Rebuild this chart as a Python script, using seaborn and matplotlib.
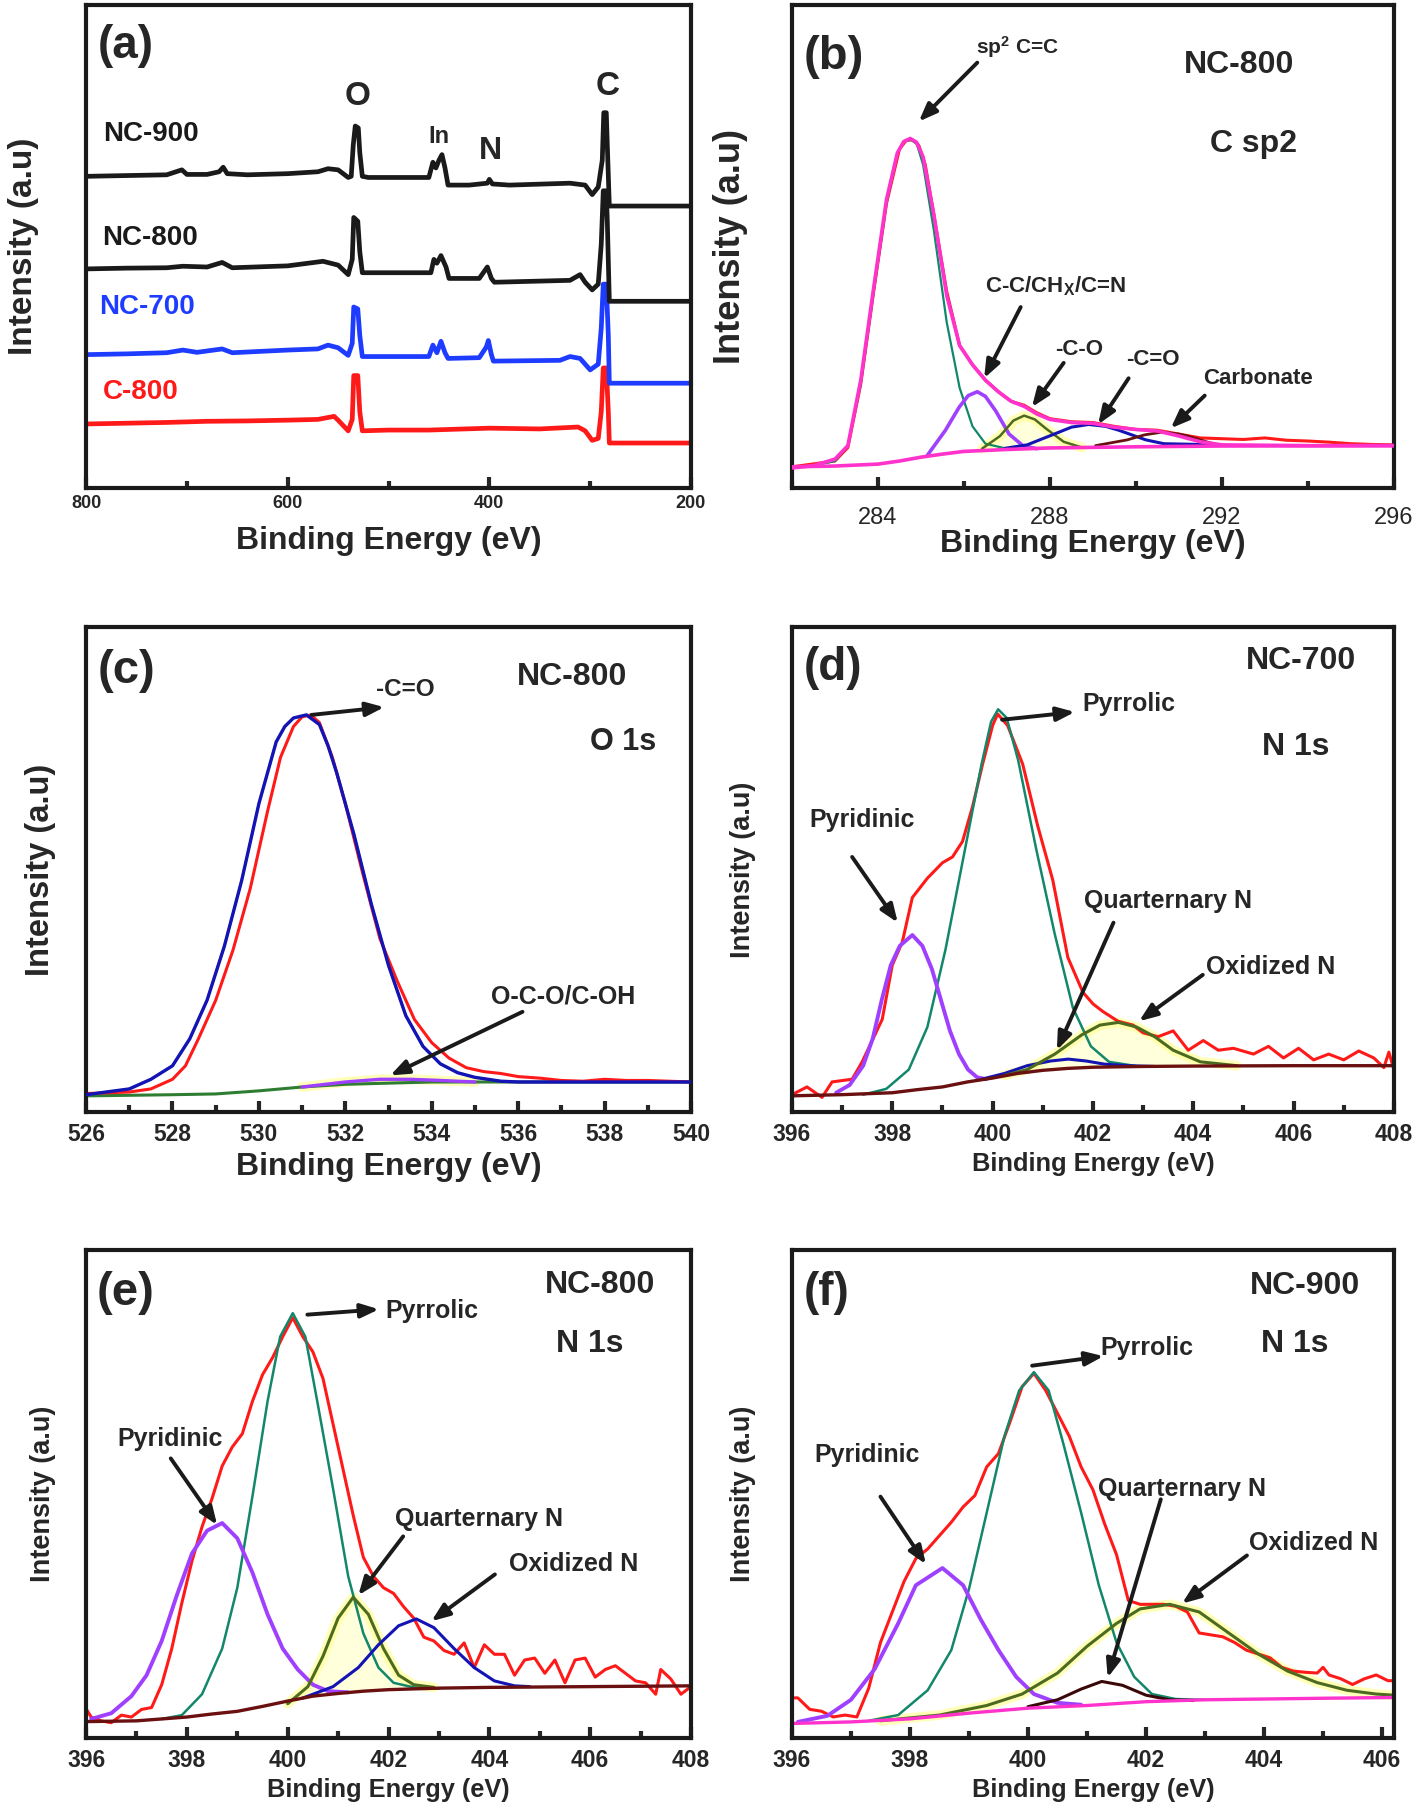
"""
XPS spectra of NC / C samples - survey, C 1s, O 1s and N 1s fits
"""

import numpy as np
import matplotlib
matplotlib.use("Agg")
import matplotlib.pyplot as plt
import seaborn as sns

# ---------------- (a) survey spectra ----------------
A_X_NC900 = [800, 760, 720, 705, 700, 680, 668, 664, 660, 640, 600, 570, 560, 550, 540, 537, 535, 533,
             530, 528.5, 526, 520, 480, 460, 456, 453, 450, 447, 444, 441, 420, 402, 400, 397, 380, 320,
             305, 298, 292, 288, 286.5, 284, 283, 281, 200]
A_Y_NC900 = [818, 820, 822, 835, 823, 823, 830, 842, 825, 822, 825, 830, 838, 835, 815, 818, 900, 950,
             945, 880, 818, 815, 815, 815, 855, 840, 860, 875, 840, 795, 795, 800, 810, 798, 795, 800,
             795, 770, 790, 860, 985, 985, 900, 740, 740]
A_X_NC800 = [800, 760, 720, 704, 680, 665, 655, 600, 565, 550, 540, 536, 534.5, 530.5, 528.5, 526, 480,
             458, 455, 452, 448, 443, 440, 410, 402, 398, 395, 320, 310, 305, 298, 292, 289, 287, 284,
             283, 281, 200]
A_Y_NC800 = [575, 577, 578, 582, 580, 592, 578, 583, 595, 585, 560, 600, 710, 700, 620, 565, 565, 565,
             600, 590, 610, 580, 550, 550, 580, 550, 540, 545, 560, 540, 520, 535, 640, 780, 780, 700,
             490, 490]
A_X_NC700 = [800, 760, 720, 704, 690, 665, 655, 600, 570, 560, 550, 540, 536, 534.5, 530.5, 528.5, 526,
             460, 456, 452, 448, 444, 441, 410, 403, 401, 398, 396, 330, 320, 310, 300, 292, 289, 287,
             284, 282, 281, 200]
A_Y_NC700 = [350, 352, 355, 362, 356, 365, 355, 362, 365, 375, 368, 348, 380, 475, 470, 400, 345, 345,
             375, 355, 385, 355, 340, 342, 370, 387, 350, 333, 335, 345, 340, 310, 325, 420, 535, 535,
             400, 275, 275]
A_X_C800 = [800, 760, 720, 680, 640, 600, 570, 554, 550, 540, 536, 534.5, 530.5, 528.5, 526, 500, 460,
            400, 350, 312, 305, 298, 292, 289, 287, 284, 282, 281, 200]
A_Y_C800 = [168, 170, 172, 175, 176, 178, 180, 188, 178, 150, 180, 295, 295, 200, 150, 152, 152, 157,
            155, 160, 150, 125, 130, 200, 315, 315, 200, 118, 118]

# ---------------- (b) C 1s, NC-800 ----------------
B_X_RAW = [282, 283, 283.3, 283.6, 283.9, 284.2, 284.5, 284.65, 284.8, 284.95, 285.1, 285.3, 285.6,
           285.9, 286.2, 286.5, 286.8, 287.1, 287.4, 287.7, 288, 288.5, 289, 289.5, 290, 290.5, 291,
           291.5, 292, 292.5, 293, 293.5, 294, 294.5, 295, 295.5, 296]
B_Y_RAW = [55, 70, 105, 270, 510, 740, 880, 902, 905, 890, 840, 710, 510, 370, 320, 280, 250, 225, 215,
           195, 180, 172, 170, 160, 152, 150, 140, 130, 128, 126, 130, 124, 122, 119, 115, 113, 112]
B_X_ENV = [282, 282.5, 283, 283.3, 283.6, 283.9, 284.2, 284.45, 284.6, 284.75, 284.9, 285.05, 285.3,
           285.6, 285.9, 286.2, 286.5, 286.8, 287.1, 287.4, 287.7, 288, 288.5, 289, 289.5, 290, 290.5,
           291, 291.5, 292, 294, 296]
B_Y_ENV = [52, 58, 75, 110, 280, 520, 750, 870, 900, 908, 898, 860, 710, 500, 370, 320, 280, 250, 225,
           212, 192, 178, 170, 168, 158, 152, 148, 135, 120, 112, 110, 110]
B_X_BG = [282, 283, 284, 284.5, 285, 285.5, 286, 287, 288, 290, 292, 296]
B_Y_BG = [55, 57, 62, 70, 80, 88, 95, 100, 104, 107, 109, 110]
B_X_SP2 = [282.5, 283, 283.3, 283.6, 283.9, 284.2, 284.45, 284.6, 284.75, 284.9, 285.05, 285.3, 285.6,
           285.9, 286.2, 286.5, 287]
B_Y_SP2 = [58, 70, 110, 270, 510, 740, 870, 900, 905, 895, 840, 670, 430, 260, 160, 115, 102]
B_X_CC = [285.15, 285.57, 285.89, 286.1, 286.31, 286.5, 286.74, 287.05, 287.37, 287.69]
B_Y_CC = [85, 150, 210, 240, 250, 238, 200, 140, 110, 102]
B_X_CO = [286.42, 286.84, 287.15, 287.4, 287.65, 287.9, 288.32, 288.75]
B_Y_CO = [102, 135, 175, 188, 178, 155, 120, 105]
B_X_CDO = [286.95, 287.47, 288.1, 288.5, 288.9, 289.3, 289.6, 290.23, 290.65, 291.92]
B_Y_CDO = [103, 112, 140, 158, 165, 160, 150, 125, 115, 112]
B_X_CARB = [289.06, 289.8, 290.2, 290.6, 291.0, 291.2, 291.7, 292.03]
B_Y_CARB = [110, 125, 138, 145, 140, 135, 118, 110]

# ---------------- (c) O 1s, NC-800 ----------------
C_X_RAW = [526, 526.5, 527, 527.5, 528, 528.3, 528.6, 529, 529.4, 529.8, 530.2, 530.5, 530.8, 531.0,
           531.2, 531.4, 531.7, 532, 532.4, 532.8, 533.2, 533.6, 534.0, 534.4, 534.8, 535.2, 535.6, 536,
           536.5, 537, 537.5, 538, 538.5, 539, 539.5, 540]
C_Y_RAW = [48, 50, 52, 60, 85, 120, 190, 290, 420, 580, 780, 920, 1000, 1025, 1030, 1010, 920, 800, 620,
           450, 340, 240, 180, 140, 115, 105, 100, 92, 88, 82, 80, 85, 82, 82, 80, 78]
C_X_FIT = [526, 527, 527.5, 528, 528.4, 528.8, 529.2, 529.6, 530, 530.4, 530.6, 530.8, 531.1, 531.4,
           531.6, 531.8, 532.2, 532.6, 533, 533.4, 533.8, 534.2, 534.6, 535, 535.6, 536, 540]
C_Y_FIT = [45, 60, 85, 120, 190, 290, 430, 600, 800, 960, 1000, 1022, 1030, 1005, 950, 880, 720, 540,
           380, 250, 170, 125, 102, 90, 80, 78, 78]
C_X_BG = [526, 528, 529, 530, 531, 532, 533, 534, 536, 540]
C_Y_BG = [42, 45, 47, 55, 65, 72, 75, 78, 78, 78]
C_X_OCO = [531, 532, 532.8, 533.5, 534.2, 535]
C_Y_OCO = [65, 78, 85, 85, 82, 78]

# ---------------- (d) N 1s, NC-700 ----------------
D_X_RAW = [396.0, 396.3, 396.6, 396.8, 397.2, 397.4, 397.8, 398.0, 398.2, 398.4, 398.7, 399.0, 399.2,
           399.4, 399.6, 399.8, 400.0, 400.1, 400.3, 400.6, 400.9, 401.2, 401.5, 401.8, 402.0, 402.2,
           402.5, 402.8, 403.0, 403.3, 403.6, 403.9, 404.2, 404.5, 404.8, 405.2, 405.5, 405.8, 406.1,
           406.4, 406.7, 407.0, 407.3, 407.6, 407.8, 407.9, 408]
D_Y_RAW = [45, 65, 38, 78, 85, 130, 240, 380, 440, 555, 605, 645, 660, 700, 790, 900, 1000, 1030, 1000,
           900, 740, 600, 400, 310, 280, 260, 235, 225, 205, 195, 210, 160, 185, 160, 165, 150, 170, 140,
           165, 135, 150, 135, 158, 140, 115, 155, 110]
D_X_BG = [396, 397, 398, 398.5, 399, 399.5, 400, 400.5, 401, 401.5, 402, 403, 404, 406, 408]
D_Y_BG = [42, 45, 50, 58, 65, 78, 88, 100, 108, 113, 116, 118, 119, 120, 120]
D_X_PYRD = [396.88, 397.15, 397.42, 397.61, 397.79, 397.97, 398.15, 398.4, 398.6, 398.79, 398.97, 399.15,
            399.33, 399.51, 399.69, 399.87]
D_Y_PYRD = [50, 70, 120, 190, 290, 380, 430, 458, 430, 370, 290, 210, 150, 110, 90, 85]
D_X_PYRL = [397.42, 397.88, 398.33, 398.7, 399.06, 399.42, 399.78, 399.97, 400.11, 400.28, 400.51,
            400.87, 401.24, 401.6, 401.96, 402.32, 402.96]
D_Y_PYRL = [45, 60, 110, 220, 420, 660, 900, 1010, 1042, 1020, 910, 680, 460, 270, 170, 130, 117]
D_X_QUAT = [399.78, 400.24, 400.69, 401.15, 401.51, 401.87, 402.23, 402.69, 403.23]
D_Y_QUAT = [85, 100, 120, 132, 137, 132, 124, 120, 118]
D_X_OXID = [400.24, 400.69, 401.24, 401.78, 402.14, 402.51, 402.87, 403.23, 403.6, 404.14, 404.87]
D_Y_OXID = [95, 110, 150, 200, 225, 232, 220, 195, 160, 130, 120]

# ---------------- (e) N 1s, NC-800 ----------------
E_X_RAW = [396.0, 396.1, 396.3, 396.5, 396.7, 396.9, 397.1, 397.3, 397.5, 397.7, 397.9, 398.1, 398.3,
           398.5, 398.7, 398.9, 399.1, 399.3, 399.5, 399.7, 399.9, 400.1, 400.3, 400.5, 400.7, 400.9,
           401.1, 401.3, 401.5, 401.7, 401.9, 402.1, 402.3, 402.5, 402.7, 402.9, 403.1, 403.3, 403.5,
           403.7, 403.9, 404.1, 404.3, 404.5, 404.7, 404.9, 405.1, 405.3, 405.5, 405.7, 405.9, 406.1,
           406.3, 406.5, 406.7, 406.9, 407.1, 407.3, 407.4, 407.6, 407.8, 408.0]
E_Y_RAW = [77, 55, 45, 40, 60, 55, 75, 80, 140, 235, 355, 465, 555, 630, 715, 765, 800, 885, 955, 1000,
           1055, 1105, 1055, 1015, 945, 825, 705, 585, 475, 425, 395, 380, 345, 315, 265, 255, 230, 220,
           250, 185, 245, 220, 220, 165, 205, 210, 170, 205, 145, 205, 210, 160, 180, 190, 170, 150, 145,
           115, 180, 155, 115, 135]
E_X_BG = [396, 397, 398, 398.5, 399, 399.5, 400, 400.5, 401, 401.5, 402, 403, 404, 406, 408]
E_Y_BG = [43, 45, 55, 63, 70, 83, 97, 110, 117, 123, 127, 131, 133, 135, 137]
E_X_PYRD = [396.1, 396.5, 396.9, 397.2, 397.5, 397.8, 398.1, 398.4, 398.7, 399.0, 399.3, 399.6, 399.9,
            400.2, 400.5, 400.8, 401.2]
E_Y_PYRD = [50, 65, 110, 165, 255, 375, 485, 545, 565, 525, 435, 325, 235, 180, 140, 123, 120]
E_X_PYRL = [397.5, 397.9, 398.3, 398.7, 399.0, 399.3, 399.6, 399.85, 400.1, 400.35, 400.6, 400.9, 401.2,
            401.5, 401.8, 402.1, 402.5, 403.0]
E_Y_PYRL = [50, 60, 115, 235, 395, 635, 885, 1055, 1117, 1055, 875, 655, 425, 275, 185, 145, 133, 130]
E_X_QUAT = [400.0, 400.4, 400.7, 401.0, 401.3, 401.6, 401.9, 402.2, 402.5, 402.9]
E_Y_QUAT = [90, 135, 215, 315, 370, 325, 235, 165, 140, 133]
E_X_OXID = [400.3, 400.9, 401.4, 401.8, 402.2, 402.55, 402.9, 403.3, 403.7, 404.1, 404.5, 404.8]
E_Y_OXID = [105, 135, 185, 245, 295, 313, 290, 235, 185, 150, 137, 135]

# ---------------- (f) N 1s, NC-900 ----------------
F_X_RAW = [396.0, 396.1, 396.3, 396.5, 396.7, 396.9, 397.1, 397.3, 397.5, 397.7, 397.9, 398.1, 398.3,
           398.5, 398.7, 398.9, 399.1, 399.3, 399.5, 399.7, 399.9, 400.1, 400.3, 400.5, 400.7, 400.9,
           401.1, 401.3, 401.5, 401.7, 401.9, 402.1, 402.3, 402.5, 402.7, 402.9, 403.1, 403.3, 403.5,
           403.7, 403.9, 404.1, 404.3, 404.5, 404.7, 404.9, 405.0, 405.1, 405.3, 405.5, 405.7, 405.9,
           406.1, 406.2]
F_Y_RAW = [105, 105, 75, 70, 55, 60, 55, 130, 250, 330, 410, 470, 495, 530, 565, 605, 635, 710, 745, 830,
           920, 955, 910, 850, 790, 710, 650, 560, 480, 360, 350, 350, 350, 345, 330, 275, 270, 265, 250,
           230, 220, 210, 185, 175, 172, 170, 185, 165, 155, 140, 155, 165, 150, 150]
F_X_BG = [396, 397, 398, 399, 400, 401, 402, 403, 404, 405, 406.2]
F_Y_BG = [38, 42, 50, 65, 78, 85, 95, 100, 102, 104, 106]
F_X_PYRD = [396.1, 396.6, 397.0, 397.4, 397.8, 398.1, 398.55, 398.9, 399.2, 399.5, 399.8, 400.1, 400.5,
            400.9]
F_Y_PYRD = [42, 58, 100, 180, 300, 400, 445, 400, 310, 230, 160, 115, 92, 87]
F_X_PYRL = [397.3, 397.8, 398.3, 398.7, 399.0, 399.3, 399.6, 399.85, 400.1, 400.35, 400.6, 400.9, 401.2,
            401.5, 401.8, 402.1, 402.5, 403.0]
F_Y_PYRL = [45, 60, 125, 230, 390, 590, 790, 910, 958, 910, 770, 590, 400, 250, 160, 115, 102, 100]
F_X_OXID = [397.5, 398.5, 399.3, 399.9, 400.5, 401.0, 401.5, 401.9, 402.4, 402.9, 403.4, 403.9, 404.4,
            404.9, 405.4, 405.9, 406.2]
F_Y_OXID = [45, 60, 85, 115, 170, 240, 300, 338, 350, 330, 275, 220, 175, 145, 125, 115, 112]
F_X_QUAT = [400.0, 400.5, 400.9, 401.25, 401.6, 402.0, 402.4, 402.8]
F_Y_QUAT = [82, 100, 128, 148, 138, 112, 100, 98]

RED = "#ff1a1a"
MAGENTA = "#ff33cc"
GREEN = "#12876a"
PURPLE = "#a040ff"
OLIVE = "#4d6b1f"
BLUE = "#1414b4"
MAROON = "#6a1010"
YELLOW = "#ffff99"

sns.set_theme(style="ticks")
plt.rcParams["font.family"] = ["Liberation Sans", "DejaVu Sans"]
plt.rcParams["font.weight"] = "bold"
plt.rcParams["mathtext.fontset"] = "custom"
plt.rcParams["mathtext.rm"] = "Liberation Sans:bold"
plt.rcParams["mathtext.bf"] = "Liberation Sans:bold"
plt.rcParams["mathtext.default"] = "bf"


def line(ax, x, y, color, lw, z=2):
    sns.lineplot(x=x, y=y, ax=ax, color=color, linewidth=lw, estimator=None, sort=False, zorder=z)


def glow(ax, x, y, bx, by, fill=True):
    # pale yellow halo (and optional fill) under a fitted component
    if fill:
        lower = np.interp(x, bx, by)
        ax.fill_between(x, lower, y, color=YELLOW, alpha=0.35, lw=0, zorder=1)
    ax.plot(x, y, color=YELLOW, lw=7, alpha=0.7, zorder=1)


def arrow(ax, tail, head):
    ax.annotate("", xy=head, xytext=tail,
                arrowprops=dict(arrowstyle="-|>,head_length=0.9,head_width=0.35", color="k", lw=2.8,
                                shrinkA=0, shrinkB=0), zorder=6)


def frame(ax, xlim, ylim, major, minor, xsize, ysize, tsize, tbold=True, tpad=6, xpad=4, ypad=8):
    ax.set_xlim(*xlim)
    ax.set_ylim(*ylim)
    ax.set_xticks(major)
    ax.set_xticks(minor, minor=True)
    ax.set_yticks([])
    for s in ax.spines.values():
        s.set_linewidth(3.0)
        s.set_color("k")
    ax.tick_params(axis="x", which="major", direction="in", length=8, width=3, pad=tpad,
                   labelsize=tsize, top=False)
    ax.tick_params(axis="x", which="minor", direction="in", length=5, width=3, top=False)
    for lab in ax.get_xticklabels():
        lab.set_fontweight("bold" if tbold else "normal")
    ax.set_xlabel("Binding Energy (eV)", fontsize=xsize, fontweight="bold", labelpad=xpad)
    ax.set_ylabel("Intensity (a.u)", fontsize=ysize, fontweight="bold", labelpad=ypad)


fig = plt.figure(figsize=(14.18, 18.10), dpi=100)
ax_a = fig.add_axes([0.0607, 0.7304, 0.4266, 0.2669])
ax_b = fig.add_axes([0.5585, 0.7304, 0.4245, 0.2669])
ax_c = fig.add_axes([0.0607, 0.3856, 0.4266, 0.2680])
ax_d = fig.add_axes([0.5585, 0.3856, 0.4245, 0.2680])
ax_e = fig.add_axes([0.0607, 0.0398, 0.4266, 0.2696])
ax_f = fig.add_axes([0.5585, 0.0398, 0.4245, 0.2696])

# (a)
for xs, ys, col in [(A_X_C800, A_Y_C800, RED), (A_X_NC700, A_Y_NC700, "#1e3cff"),
                    (A_X_NC800, A_Y_NC800, "k"), (A_X_NC900, A_Y_NC900, "k")]:
    line(ax_a, xs, ys, col, 3.4)
frame(ax_a, (800, 200), (0, 1268), [800, 600, 400, 200], [700, 500, 300], 23, 24, 13, tpad=5, xpad=10,
      ypad=34)
ax_a.text(783, 930, "NC-900", fontsize=20, color="k", va="center")
ax_a.text(784, 655, "NC-800", fontsize=20, color="k", va="center")
ax_a.text(787, 475, "NC-700", fontsize=20, color="#1e3cff", va="center")
ax_a.text(783, 252, "C-800", fontsize=20, color=RED, va="center")
ax_a.text(531, 1028, "O", fontsize=24, ha="center", va="center")
ax_a.text(450, 922, "In", fontsize=17, ha="center", va="center")
ax_a.text(398.5, 885, "N", fontsize=23, ha="center", va="center")
ax_a.text(283, 1055, "C", fontsize=24, ha="center", va="center")
ax_a.text(0.019, 0.915, "(a)", transform=ax_a.transAxes, fontsize=33, va="center")

# (b)
line(ax_b, B_X_RAW, B_Y_RAW, RED, 2.2)
line(ax_b, B_X_SP2, B_Y_SP2, GREEN, 1.6)
line(ax_b, B_X_CC, B_Y_CC, PURPLE, 2.6)
glow(ax_b, B_X_CO, B_Y_CO, B_X_BG, B_Y_BG)
line(ax_b, B_X_CO, B_Y_CO, OLIVE, 1.8)
line(ax_b, B_X_CDO, B_Y_CDO, BLUE, 2.2)
line(ax_b, B_X_CARB, B_Y_CARB, MAROON, 2.0)
line(ax_b, B_X_BG, B_Y_BG, MAGENTA, 2.6, z=3)
line(ax_b, B_X_ENV, B_Y_ENV, MAGENTA, 2.6, z=3)
frame(ax_b, (282, 296), (0, 1255), [284, 288, 292, 296], [282, 286, 290, 294], 23, 26, 17,
      tbold=False, tpad=14, xpad=0, ypad=32)
ax_b.text(0.02, 0.892, "(b)", transform=ax_b.transAxes, fontsize=34, va="center")
ax_b.text(0.742, 0.876, "NC-800", transform=ax_b.transAxes, fontsize=23, ha="center", va="center")
ax_b.text(0.767, 0.711, "C sp2", transform=ax_b.transAxes, fontsize=23, ha="center", va="center")
ax_b.text(287.24, 1145, r"sp$^2$ C=C", fontsize=15, ha="center", va="center")
arrow(ax_b, (286.31, 1105), (284.95, 952))
ax_b.text(288.14, 525, r"C-C/CH$_X$/C=N", fontsize=16, ha="center", va="center")
arrow(ax_b, (287.32, 470), (286.47, 285))
ax_b.text(288.69, 360, "-C-O", fontsize=16, ha="center", va="center")
arrow(ax_b, (288.32, 325), (287.58, 210))
ax_b.text(290.4, 335, "-C=O", fontsize=16, ha="center", va="center")
arrow(ax_b, (289.83, 285), (289.12, 165))
ax_b.text(292.84, 285, "Carbonate", fontsize=16, ha="center", va="center")
arrow(ax_b, (291.6, 240), (290.81, 155))

# (c)
glow(ax_c, C_X_OCO, C_Y_OCO, C_X_BG, C_Y_BG)
line(ax_c, C_X_BG, C_Y_BG, "#2e7d32", 2.2)
line(ax_c, C_X_OCO, C_Y_OCO, PURPLE, 2.4)
line(ax_c, C_X_FIT, C_Y_FIT, GREEN, 1.6)
line(ax_c, C_X_RAW, C_Y_RAW, RED, 2.2)
line(ax_c, C_X_FIT, C_Y_FIT, BLUE, 2.4, z=3)
frame(ax_c, (526, 540), (0, 1258), list(range(526, 541, 2)), list(range(527, 540, 2)), 23, 23.5, 16.5,
      tpad=8, xpad=4, ypad=22)
ax_c.text(0.019, 0.91, "(c)", transform=ax_c.transAxes, fontsize=34, va="center")
ax_c.text(0.804, 0.897, "NC-800", transform=ax_c.transAxes, fontsize=23, ha="center", va="center")
ax_c.text(0.887, 0.763, "O 1s", transform=ax_c.transAxes, fontsize=22, ha="center", va="center")
ax_c.text(533.38, 1095, "-C=O", fontsize=17.5, ha="center", va="center")
arrow(ax_c, (531.22, 1030), (532.9, 1050))
ax_c.text(537.05, 300, "O-C-O/C-OH", fontsize=18, ha="center", va="center")
arrow(ax_c, (536.1, 260), (533.04, 95))


def n1s(ax, raw, bg, pyrd, pyrl, quat, oxid, bg_col, quat_col, oxid_col, glow_on, xlim, major, minor,
        ypad, fill=True):
    if glow_on == "oxid":
        glow(ax, oxid[0], oxid[1], bg[0], bg[1], fill)
    else:
        glow(ax, quat[0], quat[1], bg[0], bg[1], fill)
    line(ax, raw[0], raw[1], RED, 2.2)
    line(ax, pyrl[0], pyrl[1], GREEN, 1.8)
    line(ax, pyrd[0], pyrd[1], PURPLE, 2.8)
    line(ax, quat[0], quat[1], quat_col, 2.2)
    line(ax, oxid[0], oxid[1], oxid_col, 2.2)
    line(ax, bg[0], bg[1], bg_col, 2.4)
    frame(ax, xlim, ax.get_ylim(), major, minor, 18.3, 19.5, 16.5, tpad=8, xpad=4, ypad=ypad)


# (d)
ax_d.set_ylim(0, 1255)
n1s(ax_d, (D_X_RAW, D_Y_RAW), (D_X_BG, D_Y_BG), (D_X_PYRD, D_Y_PYRD), (D_X_PYRL, D_Y_PYRL),
    (D_X_QUAT, D_Y_QUAT), (D_X_OXID, D_Y_OXID), MAROON, BLUE, OLIVE, "oxid",
    (396, 408), list(range(396, 409, 2)), list(range(397, 408, 2)), 26)
ax_d.text(0.02, 0.915, "(d)", transform=ax_d.transAxes, fontsize=33, va="center")
ax_d.text(0.845, 0.93, "NC-700", transform=ax_d.transAxes, fontsize=23, ha="center", va="center")
ax_d.text(0.837, 0.753, "N 1s", transform=ax_d.transAxes, fontsize=23, ha="center", va="center")
ax_d.text(401.78, 1055, "Pyrrolic", fontsize=18, va="center")
arrow(ax_d, (400.19, 1015), (401.64, 1035))
ax_d.text(396.34, 755, "Pyridinic", fontsize=18, va="center")
arrow(ax_d, (397.20, 660), (398.11, 490))
ax_d.text(401.83, 545, "Quarternary N", fontsize=18, va="center")
arrow(ax_d, (402.41, 490), (401.28, 160))
ax_d.text(404.25, 375, "Oxidized N", fontsize=18, va="center")
arrow(ax_d, (404.19, 355), (402.92, 235))

# (e)
ax_e.set_ylim(0, 1283)
n1s(ax_e, (E_X_RAW, E_Y_RAW), (E_X_BG, E_Y_BG), (E_X_PYRD, E_Y_PYRD), (E_X_PYRL, E_Y_PYRL),
    (E_X_QUAT, E_Y_QUAT), (E_X_OXID, E_Y_OXID), MAROON, OLIVE, BLUE, "quat",
    (396, 408), list(range(396, 409, 2)), list(range(397, 408, 2)), 22)
ax_e.text(0.017, 0.912, "(e)", transform=ax_e.transAxes, fontsize=34, va="center")
ax_e.text(0.849, 0.928, "NC-800", transform=ax_e.transAxes, fontsize=23, ha="center", va="center")
ax_e.text(0.833, 0.808, "N 1s", transform=ax_e.transAxes, fontsize=23, ha="center", va="center")
ax_e.text(401.93, 1123, "Pyrrolic", fontsize=18, va="center")
arrow(ax_e, (400.39, 1113), (401.81, 1127))
ax_e.text(396.63, 785, "Pyridinic", fontsize=18, va="center")
arrow(ax_e, (397.68, 735), (398.6, 560))
ax_e.text(402.13, 575, "Quarternary N", fontsize=18, va="center")
arrow(ax_e, (402.29, 530), (401.4, 375))
ax_e.text(404.39, 457, "Oxidized N", fontsize=18, va="center")
arrow(ax_e, (404.11, 430), (402.85, 307))

# (f)
ax_f.set_ylim(0, 1278)
n1s(ax_f, (F_X_RAW, F_Y_RAW), (F_X_BG, F_Y_BG), (F_X_PYRD, F_Y_PYRD), (F_X_PYRL, F_Y_PYRL),
    (F_X_QUAT, F_Y_QUAT), (F_X_OXID, F_Y_OXID), MAGENTA, "#3a0808", OLIVE, "oxid",
    (396, 406.2), list(range(396, 407, 2)), list(range(397, 406, 2)), 26, fill=False)
ax_f.text(0.019, 0.912, "(f)", transform=ax_f.transAxes, fontsize=33, va="center")
ax_f.text(0.852, 0.927, "NC-900", transform=ax_f.transAxes, fontsize=23, ha="center", va="center")
ax_f.text(0.835, 0.808, "N 1s", transform=ax_f.transAxes, fontsize=23, ha="center", va="center")
ax_f.text(401.22, 1020, "Pyrrolic", fontsize=18, va="center")
arrow(ax_f, (400.07, 975), (401.28, 1000))
ax_f.text(396.38, 740, "Pyridinic", fontsize=18, va="center")
arrow(ax_f, (397.5, 632), (398.27, 455))
ax_f.text(401.19, 653, "Quarternary N", fontsize=18, va="center")
arrow(ax_f, (402.25, 625), (401.35, 158))
ax_f.text(403.75, 510, "Oxidized N", fontsize=18, va="center")
arrow(ax_f, (403.71, 478), (402.61, 352))

fig.savefig("out.png", dpi=100, facecolor="white")
plt.close(fig)
